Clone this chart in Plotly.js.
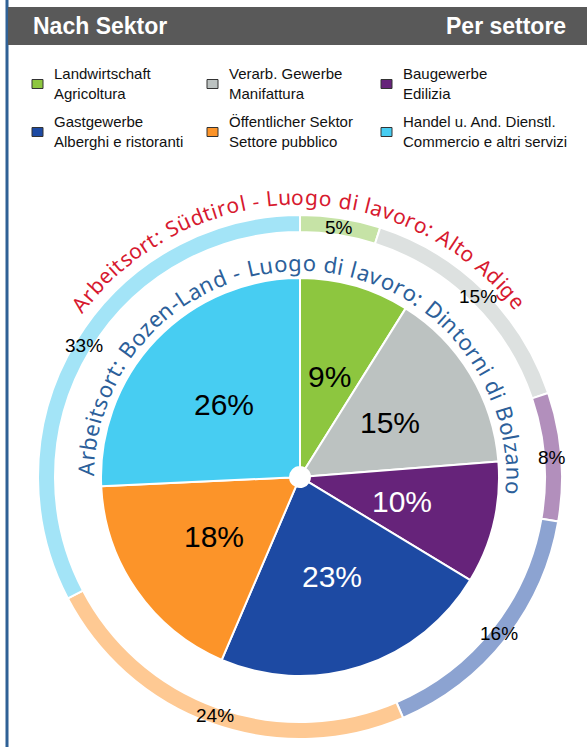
<!DOCTYPE html>
<html><head><meta charset="utf-8">
<script src="https://cdn.plot.ly/plotly-3.0.1.min.js"></script>
<style>html,body{margin:0;padding:0;background:#fff;} #chart{width:587px;height:747px;}</style>
</head><body><div id="chart"></div>
<script>
// ---- data ----
const sectorsDe = ["Landwirtschaft","Verarb. Gewerbe","Baugewerbe","Gastgewerbe","Öffentlicher Sektor","Handel u. And. Dienstl."];
const sectorsIt = ["Agricoltura","Manifattura","Edilizia","Alberghi e ristoranti","Settore pubblico","Commercio e altri servizi"];
const bozenLand = [9, 15, 10, 23, 18, 26];   // inner pie, %
const suedtirol = [5, 15, 8, 16, 24, 33];    // outer ring, %
const innerColors = ["#8DC63F","#BCC2C1","#66237A","#1D4AA3","#FC9429","#47CDF2"];
const outerColors = ["#C6E3A6","#DDE1E0","#B28FBC","#8CA3D1","#FEC993","#A3E4F7"];
const innerTextColors = ["#000","#000","#fff","#fff","#000","#000"];
const outerTitle = "Arbeitsort: Südtirol - Luogo di lavoro: Alto Adige";
const innerTitle = "Arbeitsort: Bozen-Land - Luogo di lavoro: Dintorni di Bolzano";
const headerLeft = "Nach Sektor";
const headerRight = "Per settore";

// ---- geometry ----
const W = 587, H = 747;
const cx = 300, cy = 477;
const R_OUT = 262, R_OUT_IN = 245, R_IN = 199, R_HOLE = 10;
const X = px => px / W;
const Y = py => 1 - py / H;

const traces = [
  {
    type: 'pie', values: suedtirol, labels: sectorsDe, sort: false, direction: 'clockwise', rotation: 0,
    hole: R_OUT_IN / R_OUT, textinfo: 'none', hoverinfo: 'none', showlegend: false,
    marker: {colors: outerColors, line: {color: '#fff', width: 2}},
    domain: {x: [X(cx - R_OUT), X(cx + R_OUT)], y: [Y(cy + R_OUT), Y(cy - R_OUT)]}
  },
  {
    type: 'pie', values: bozenLand, labels: sectorsDe, sort: false, direction: 'clockwise', rotation: 0,
    hole: R_HOLE / R_IN, textinfo: 'none', hoverinfo: 'none', showlegend: false,
    marker: {colors: innerColors, line: {color: '#fff', width: 2}},
    domain: {x: [X(cx - R_IN), X(cx + R_IN)], y: [Y(cy + R_IN), Y(cy - R_IN)]}
  }
];

const annotations = [];
const shapes = [];

// percentage labels along mid angles
function sliceLabels(vals, r, size, colors) {
  const total = vals.reduce((a, b) => a + b, 0);
  let cum = 0;
  vals.forEach((v, i) => {
    const th = 2 * Math.PI * (cum + v / 2) / total;
    cum += v;
    annotations.push({
      x: X(cx + r * Math.sin(th)), y: Y(cy - r * Math.cos(th)), xref: 'paper', yref: 'paper',
      text: v + '%', showarrow: false, xanchor: 'center', yanchor: 'middle',
      font: {family: 'Liberation Sans, Arial, sans-serif', size: size, color: colors ? colors[i] : '#000'}
    });
  });
}
sliceLabels(bozenLand, 105, 30, innerTextColors);
sliceLabels(suedtirol, 253, 19, null);

// curved text: fixed font size, tracking spread to fill the arc
const cvs = document.createElement('canvas');
const ctx = cvs.getContext('2d');
function arcText(str, r, centerDeg, targetLen, fs, color, family) {
  ctx.font = fs + 'px ' + family;
  const chars = Array.from(str);
  const widths = chars.map(c => ctx.measureText(c).width);
  const natural = widths.reduce((a, b) => a + b, 0);
  const extra = (targetLen - natural) / (chars.length - 1);
  const total = natural + extra * (chars.length - 1);
  const s = centerDeg * Math.PI / 180 - total / r / 2;
  let cum = 0;
  chars.forEach((c, i) => {
    const mid = s + (cum + widths[i] / 2) / r;
    cum += widths[i] + extra;
    if (c === ' ') return;
    annotations.push({
      x: X(cx + r * Math.sin(mid)), y: Y(cy - r * Math.cos(mid)), xref: 'paper', yref: 'paper',
      text: c, showarrow: false, xanchor: 'center', yanchor: 'middle', borderpad: 0,
      textangle: mid * 180 / Math.PI,
      font: {family: family, size: fs, color: color}
    });
  });
}
arcText(outerTitle, 280, -0.5, 515, 21, '#D7192F', 'Noto Sans');
arcText(innerTitle, 215, 2.5, 692, 22, '#2C5F9A', 'Noto Sans');

// border & header
shapes.push({type: 'line', xref: 'paper', yref: 'paper', x0: X(7), x1: X(7), y0: 0, y1: 1, line: {color: '#2F6196', width: 3}});
shapes.push({type: 'rect', xref: 'paper', yref: 'paper', x0: X(8), x1: 1, y0: Y(45), y1: Y(7), fillcolor: '#595959', line: {width: 0}});
annotations.push({x: X(31), y: Y(26), xref: 'paper', yref: 'paper', text: '<b>' + headerLeft + '</b>', showarrow: false,
  xanchor: 'left', yanchor: 'middle', font: {family: 'Liberation Sans, Arial, sans-serif', size: 23, color: '#fff'}});
annotations.push({x: X(568), y: Y(26), xref: 'paper', yref: 'paper', text: '<b>' + headerRight + '</b>', showarrow: false,
  xanchor: 'right', yanchor: 'middle', font: {family: 'Liberation Sans, Arial, sans-serif', size: 23, color: '#fff'}});

// custom legend
const colX = [32, 207, 381];
const rowY = [84, 132];
sectorsDe.forEach((de, i) => {
  const c = i % 3, rr = Math.floor(i / 3);
  const sx = colX[c], sy = rowY[rr];
  shapes.push({type: 'rect', xref: 'paper', yref: 'paper', x0: X(sx), x1: X(sx + 11), y0: Y(sy + 4.5), y1: Y(sy - 4.5),
    fillcolor: innerColors[i], line: {color: '#333', width: 1}});
  annotations.push({x: X(sx + 20), y: Y(sy), xref: 'paper', yref: 'paper', text: de + '<br>' + sectorsIt[i], showarrow: false,
    xanchor: 'left', yanchor: 'middle', align: 'left',
    font: {family: 'Liberation Sans, Arial, sans-serif', size: 15, color: '#111'}});
});

const layout = {
  width: W, height: H, margin: {l: 0, r: 0, t: 0, b: 0},
  paper_bgcolor: '#fff', plot_bgcolor: '#fff',
  showlegend: false, annotations: annotations, shapes: shapes
};
Plotly.newPlot('chart', traces, layout, {displayModeBar: false, staticPlot: true});
</script></body></html>
